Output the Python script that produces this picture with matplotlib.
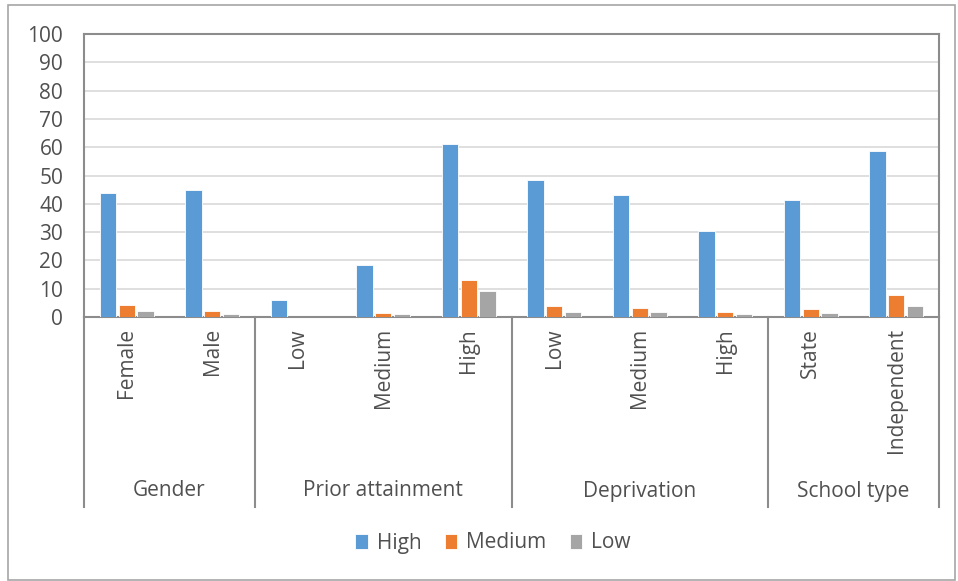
import numpy as np
import matplotlib.pyplot as plt
from matplotlib.patches import Rectangle

plt.rcParams["font.family"] = ["Open Sans", "DejaVu Sans"]

# Данные
categories = ["Female", "Male", "Low", "Medium", "High", "Low", "Medium", "High",
              "State", "Independent"]
groups = ["Gender", "Prior attainment", "Deprivation", "School type"]
group_sizes = [2, 3, 3, 2]
high = [43.7, 45.0, 6.0, 18.2, 61.0, 48.5, 43.0, 30.3, 41.2, 58.8]
medium = [4.1, 2.0, 0.0, 1.5, 13.2, 3.8, 3.3, 1.9, 2.8, 7.9]
low = [2.0, 1.1, 0.0, 1.1, 9.2, 1.9, 1.9, 1.1, 1.5, 3.8]

text_col = "#505050"
axis_col = "#8c8c8c"
colors = ["#5B9BD5", "#ED7D31", "#A5A5A5"]
fs = 15

fig = plt.figure(figsize=(9.58, 5.81), dpi=100)
ax = fig.add_axes([84 / 958, 1 - 317 / 581, (939 - 84) / 958, (317 - 34) / 581])

x = np.arange(len(categories))
w = 0.19
for off, vals, c, lab in zip([-0.22, 0, 0.22], [high, medium, low], colors,
                             ["High", "Medium", "Low"]):
    ax.bar(x + off, vals, width=w, color=c, edgecolor="white", linewidth=0.6,
           label=lab, zorder=3)

ax.set_xlim(-0.5, len(categories) - 0.5)
ax.set_ylim(0, 100)
ax.set_yticks(np.arange(0, 101, 10))
ax.yaxis.grid(True, color="#d9d9d9", linewidth=1.2, zorder=0)
ax.tick_params(axis="y", length=0, pad=15, labelsize=fs, labelcolor=text_col)
ax.set_xticks(x)
ax.set_xticklabels(categories, rotation=90, va="top", ha="center")
ax.tick_params(axis="x", length=0, pad=8, labelsize=fs, labelcolor=text_col)
for s in ax.spines.values():
    s.set_color(axis_col)
    s.set_linewidth(1.5)

# Разделители групп и подписи групп
sep_bottom = -(507 - 317) / 2.83
label_y = -(491 - 317) / 2.83
edges = np.concatenate([[0], np.cumsum(group_sizes)]) - 0.5
for e in edges:
    ax.plot([e, e], [0, sep_bottom], color=axis_col, linewidth=1.5, clip_on=False)
for g, a, b in zip(groups, edges[:-1], edges[1:]):
    ax.text((a + b) / 2, label_y, g, ha="center", va="center", fontsize=fs,
            color=text_col)

# Рамка всего рисунка
fig.patches.append(Rectangle((8 / 958, 1 / 581), (955 - 8) / 958, (576 - 1) / 581,
                             transform=fig.transFigure, fill=False,
                             edgecolor="#a6a6a6", linewidth=1.2))

fig.legend(loc="center", bbox_to_anchor=(493 / 958, 1 - 543 / 581), ncol=3,
           frameon=False, fontsize=fs, labelcolor=text_col, handlelength=0.6,
           handleheight=0.75, handletextpad=0.45, columnspacing=1.1)

fig.savefig("out.png", dpi=100)
